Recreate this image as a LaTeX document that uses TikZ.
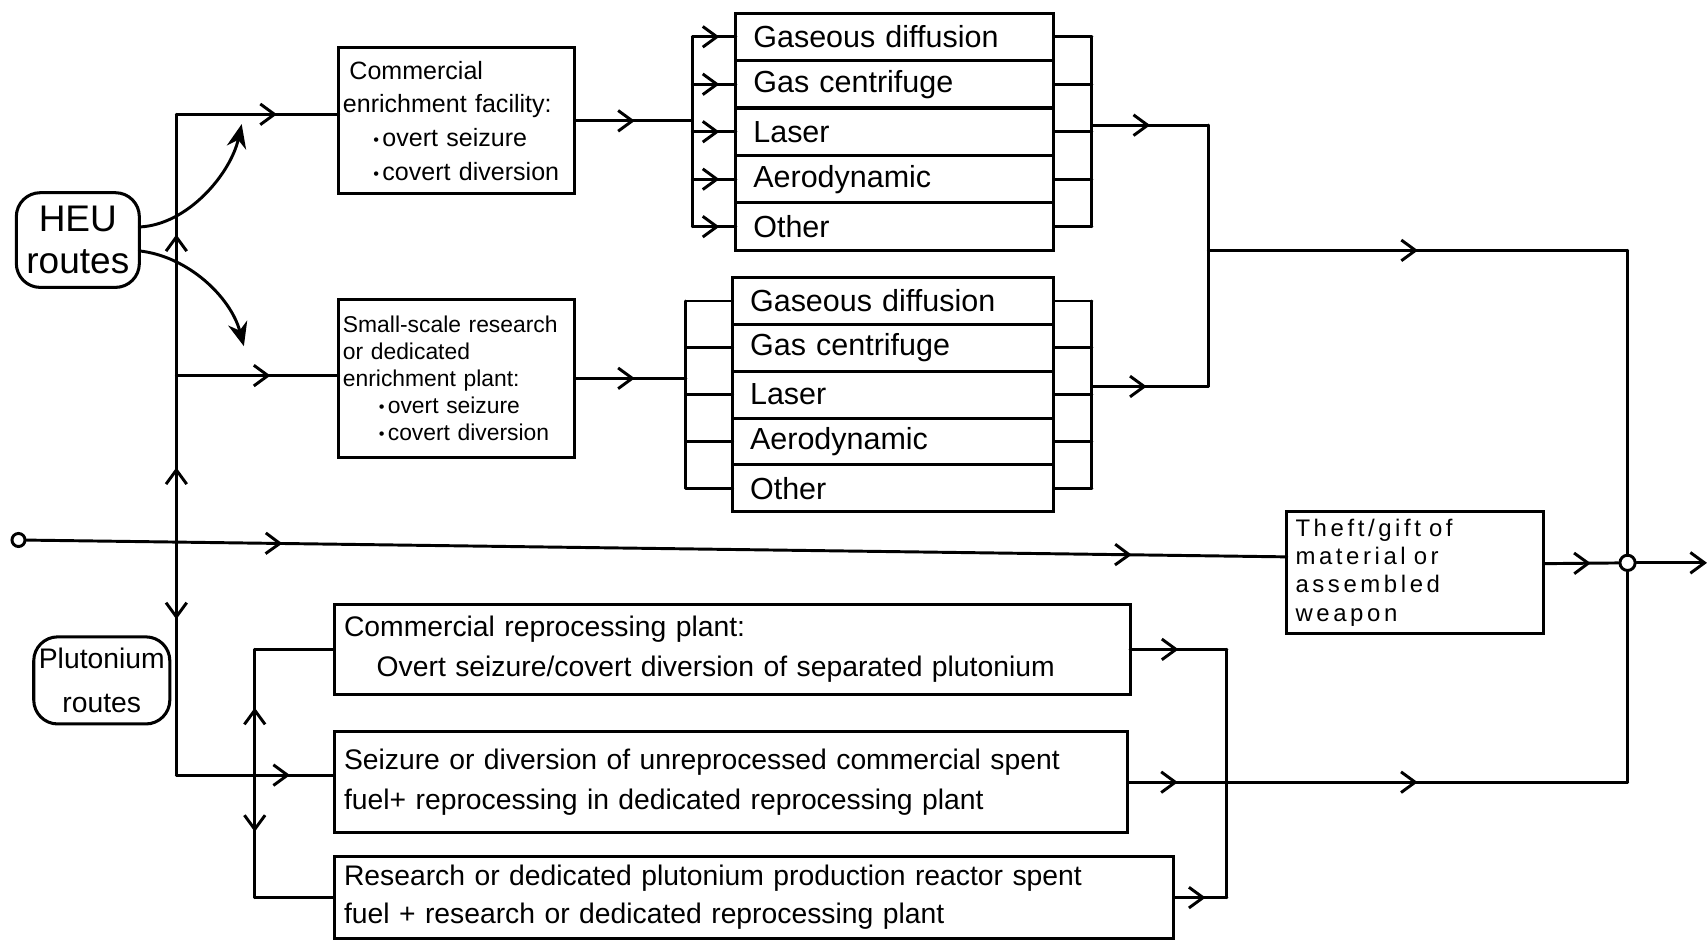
\documentclass[tikz,border=0pt]{standalone}
\usepackage{fontspec}
\setmainfont{Liberation Sans}[WordSpace=1.6]
\newfontfamily\theftfont{Liberation Sans}[LetterSpace=15,WordSpace=1.6]
\usetikzlibrary{arrows.meta,decorations.markings,calc}
\newcommand{\fsz}[2]{\fontsize{#1pt}{#2pt}\selectfont}
\newcommand{\dotb}{{\fsz{15}{15}\raisebox{1pt}{•}}\hspace{3pt}}
\tikzset{
  marr/.style={postaction={decorate,decoration={markings,mark=at position #1 with {\arrow{Straight Barb[length=13pt,width=19pt]}}}}},
  rmarr/.style={postaction={decorate,decoration={markings,mark=at position #1 with {\arrowreversed{Straight Barb[length=13pt,width=19pt]}}}}},
  box/.style={draw, line width=2.8pt, rectangle, inner sep=0pt, outer sep=0pt},
  rbox/.style={box, rounded corners=22pt},
  rowa/.style={box, minimum height=43.6pt, text width=260pt, inner xsep=16pt, align=left, font=\fsz{28}{32}},
  rowb/.style={box, minimum height=43pt, text width=263pt, inner xsep=16pt, align=left, font=\fsz{28}{32}},
  plubox/.style={box, inner xsep=9pt, align=left, font=\fsz{26}{37}},
  fat/.style={-{Stealth[length=22pt,width=18pt]}},
}
\begin{document}
\begin{tikzpicture}[x=1pt,y=-1pt,line width=2.7pt,line cap=round]
\useasboundingbox (0,0) rectangle (1568,871);
\fill[white] (0,0) rectangle (1568,871);

% ---- nodes ----
\node[rbox, minimum width=113pt, minimum height=87pt, align=center, font=\fsz{34}{38}] (HEU) at (71.5,220.5) {HEU\\routes};
\node[rbox, minimum width=125pt, minimum height=80pt, align=center, font=\fsz{26}{40}] (Plu) at (93.5,625) {Plutonium\\routes};

\node[box, minimum height=134pt, text width=209pt, inner xsep=4pt, align=left, font=\fsz{23}{31}] (CE) at (419.5,111)
  {\hspace*{6pt}Commercial\\enrichment facility:\\\hspace*{28pt}\dotb overt seizure\\\hspace*{28pt}\dotb covert diversion};
\node[box, minimum height=145pt, text width=209pt, inner xsep=4pt, align=left, font=\fsz{21}{25}] (SS) at (419.5,347.5)
  {Small-scale research\\or dedicated\\enrichment plant:\\\hspace*{33pt}\dotb overt seizure\\\hspace*{33pt}\dotb covert diversion};

\node[rowa] (T1a) at (822,33.8) {Gaseous diffusion};
\node[rowa] (T1b) at (822,77.4) {Gas centrifuge};
\node[rowa] (T1c) at (822,121) {Laser};
\node[rowa] (T1d) at (822,164.6) {Aerodynamic};
\node[rowa] (T1e) at (822,208.2) {Other};

\node[rowb] (T2a) at (820.5,276.5) {Gaseous diffusion};
\node[rowb] (T2b) at (820.5,319.5) {Gas centrifuge};
\node[rowb] (T2c) at (820.5,362.5) {Laser};
\node[rowb] (T2d) at (820.5,405.5) {Aerodynamic};
\node[rowb] (T2e) at (820.5,448.5) {Other};

\node[box, minimum height=112pt, text width=220pt, inner xsep=8pt, align=left, font=\theftfont\fsz{22}{26}] (Theft) at (1300,526)
  {Theft/gift of\\material or\\assembled\\weapon};

\node[plubox, minimum height=83pt, text width=713pt] (CR) at (672.5,596.5)
  {Commercial reprocessing plant:\\\hspace*{30pt}Overt seizure/covert diversion of separated plutonium};
\node[plubox, minimum height=93pt, text width=711pt] (SD) at (671.5,718.5)
  {Seizure or diversion of unreprocessed commercial spent\\fuel+ reprocessing in dedicated reprocessing plant};
\node[plubox, minimum height=75pt, text width=753pt, font=\fsz{26}{35}] (RD) at (692.5,824.5)
  {Research or dedicated plutonium production reactor spent\\fuel + research or dedicated reprocessing plant};

\node[draw, circle, fill=white, minimum size=12pt, inner sep=0pt, line width=2.7pt] (sc) at (17,496) {};
\node[draw, circle, fill=white, minimum size=14pt, inner sep=0pt, line width=2.7pt] (oc) at (1495,517) {};

% ---- coordinates ----
\coordinate (jTop) at (162,105);
\coordinate (jSS) at (162,345);
\coordinate (jSD) at (162,712);
\coordinate (xP) at (234,0);
\coordinate (xL1) at (636,0);
\coordinate (xL2) at (630,0);
\coordinate (xR) at (1003,0);
\coordinate (o1) at (1003,115);
\coordinate (o2) at (1003,355);
\coordinate (m1) at (1110,115);
\coordinate (m2) at (1110,355);
\coordinate (m3) at (1110,230);
\coordinate (e1) at (1495,230);
\coordinate (xQ) at (1127,0);
\coordinate (fin) at (1568,517);
\coordinate (h1) at (222,114);
\coordinate (h2) at (224,318);

% ---- HEU curves ----
\draw[fat] (HEU.12) .. controls +(45,-2) and +(-10,45) .. (h1);
\draw[fat] (HEU.-10) .. controls +(45,5) and +(-12,-45) .. (h2);

% ---- main vertical ----
\draw[marr=0.54] (jSS) -- (jTop);
\draw[marr=0.61, rmarr=0.23] (jSS) -- (jSD);
\draw[marr=0.62] (jTop) -- (jTop -| CE.west);
\draw[marr=0.58] (jSS) -- (jSS -| SS.west);
\draw[marr=0.72] (jSD) -- (jSD -| SD.west);

% ---- top technology block ----
\draw[marr=0.51] (CE.east) -- (CE.east -| xL1);
\draw (xL1 |- T1a.west) -- (xL1 |- T1e.west);
\foreach \r in {T1a,T1b,T1c,T1d,T1e}{
  \draw[marr=0.62] (xL1 |- \r.west) -- (\r.west);
  \draw (\r.east) -- (\r.east -| xR);
}
\draw (xR |- T1a.east) -- (xR |- T1e.east);
\draw[marr=0.5] (o1) -- (m1);

% ---- bottom technology block ----
\draw[marr=0.54] (SS.east) -- (SS.east -| xL2);
\draw (xL2 |- T2a.west) -- (xL2 |- T2e.west);
\foreach \r in {T2a,T2b,T2c,T2d,T2e}{
  \draw (xL2 |- \r.west) -- (\r.west);
  \draw (\r.east) -- (\r.east -| xR);
}
\draw (xR |- T2a.east) -- (xR |- T2e.east);
\draw[marr=0.47] (o2) -- (m2);

\draw (m1) -- (m2);
\draw[marr=0.5] (m3) -- (e1);
\draw (e1) -- (oc);
\draw (oc) -- (SD.east -| oc);

% ---- direct route ----
\draw[marr=0.203, marr=0.877] (sc) -- (Theft.173);
\draw[marr=0.63] (Theft.4) -- (oc);
\draw[-{Straight Barb[length=13pt,width=19pt]}] (oc) -- (fin);

% ---- plutonium block ----
\draw (CR.west -| xP) -- (CR.west);
\draw (RD.west -| xP) -- (RD.west);
\draw[rmarr=0.235, marr=0.735] (CR.west -| xP) -- (RD.west -| xP);
\draw[marr=0.5] (CR.east) -- (CR.east -| xQ);
\draw[marr=0.6] (RD.east) -- (RD.east -| xQ);
\draw (CR.east -| xQ) -- (RD.east -| xQ);
\draw[marr=0.1, marr=0.58] (SD.east) -- (SD.east -| oc);
\end{tikzpicture}
\end{document}
